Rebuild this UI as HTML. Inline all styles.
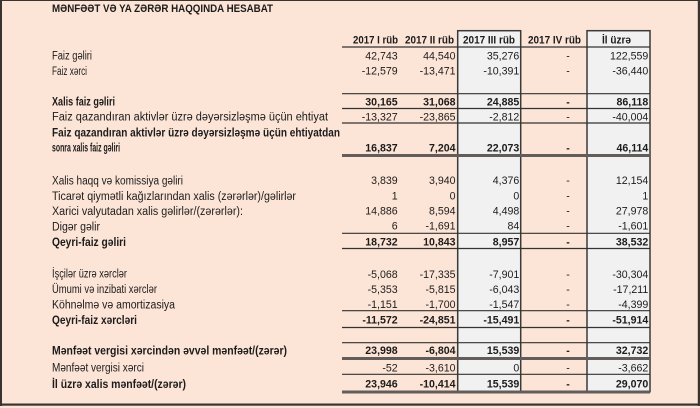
<!DOCTYPE html>
<html>
<head>
<meta charset="utf-8">
<style>
html,body{margin:0;padding:0;background:#fce4d6;}
svg{display:block;}
text{font-family:"Liberation Sans","DejaVu Sans",sans-serif;fill:#1c1c1c;}
.l{font-size:11.5px;}
.b{font-weight:bold;}
.n{font-size:10.6px;text-anchor:end;}
.d{font-size:10.6px;text-anchor:middle;}
.h{font-size:11px;font-weight:bold;}
</style>
</head>
<body>
<svg width="700" height="408" viewBox="0 0 700 408" xmlns="http://www.w3.org/2000/svg">
<rect x="0" y="0" width="700" height="408" fill="#fce4d6"/>
<rect x="458" y="31" width="63" height="361" fill="#f1f1f1"/>
<rect x="587" y="31" width="63" height="361" fill="#f1f1f1"/>
<g stroke="#3a3a3a" stroke-width="1.5" fill="none">
<rect x="457.7" y="30.7" width="63" height="361"/>
<rect x="587" y="30.7" width="63" height="361"/>
</g>
<g stroke="#333" stroke-width="1.2">
<line x1="342" y1="47" x2="650" y2="47"/>
<line x1="342" y1="93.7" x2="650" y2="93.7"/>
<line x1="342" y1="108.5" x2="650" y2="108.5"/>
<line x1="342" y1="123" x2="650" y2="123"/>
<line x1="342" y1="233.3" x2="650" y2="233.3"/>
<line x1="342" y1="248.5" x2="650" y2="248.5"/>
<line x1="342" y1="310.7" x2="650" y2="310.7"/>
<line x1="342" y1="327.5" x2="650" y2="327.5"/>
<line x1="342" y1="342.7" x2="650" y2="342.7"/>
<line x1="342" y1="374.3" x2="650" y2="374.3"/>
</g>
<g fill="#625d5a">
<rect x="342" y="154" width="308" height="3"/>
<rect x="342" y="357" width="308" height="3"/>
<rect x="342" y="390.5" width="308" height="3"/>
</g>
<rect x="0" y="0" width="700" height="1" fill="#3a3330"/>
<rect x="0" y="0" width="2" height="406" fill="#3a3330"/>
<rect x="0" y="403.5" width="700" height="2.2" fill="#3a3330"/>
<rect x="697.8" y="0" width="2.2" height="406" fill="#3a3330"/>

<text x="52" y="12.2" class="h" textLength="221" lengthAdjust="spacingAndGlyphs">MƏNFƏƏT VƏ YA ZƏRƏR HAQQINDA HESABAT</text>

<text x="353" y="43.5" class="h" textLength="45" lengthAdjust="spacingAndGlyphs">2017 I rüb</text>
<text x="405" y="43.5" class="h" textLength="49" lengthAdjust="spacingAndGlyphs">2017 II rüb</text>
<text x="463" y="43.5" class="h" textLength="52" lengthAdjust="spacingAndGlyphs">2017 III rüb</text>
<text x="528" y="43.5" class="h" textLength="53" lengthAdjust="spacingAndGlyphs">2017 IV rüb</text>
<text x="602" y="43.5" class="h" textLength="29" lengthAdjust="spacingAndGlyphs">İl üzrə</text>

<g>
<text x="52" y="59.5" class="l" textLength="40" lengthAdjust="spacingAndGlyphs">Faiz gəliri</text>
<text x="52" y="75" class="l" textLength="35" lengthAdjust="spacingAndGlyphs">Faiz xərci</text>
<text x="52" y="105.5" class="l b" textLength="63" lengthAdjust="spacingAndGlyphs">Xalis faiz gəliri</text>
<text x="52" y="120.5" class="l" textLength="276" lengthAdjust="spacingAndGlyphs">Faiz qazandıran aktivlər üzrə dəyərsizləşmə üçün ehtiyat</text>
<text x="52" y="136.5" class="l b" textLength="288" lengthAdjust="spacingAndGlyphs">Faiz qazandıran aktivlər üzrə dəyərsizləşmə üçün ehtiyatdan</text>
<text x="52" y="151.5" class="l b" textLength="68" lengthAdjust="spacingAndGlyphs">sonra xalis faiz gəliri</text>
<text x="52" y="184.5" class="l" textLength="131" lengthAdjust="spacingAndGlyphs">Xalis haqq və komissiya gəliri</text>
<text x="52" y="200" class="l" textLength="244" lengthAdjust="spacingAndGlyphs">Ticarət qiymətli kağızlarından xalis (zərərlər)/gəlirlər</text>
<text x="52" y="215" class="l" textLength="191" lengthAdjust="spacingAndGlyphs">Xarici valyutadan xalis gəlirlər/(zərərlər):</text>
<text x="52" y="230.5" class="l" textLength="48" lengthAdjust="spacingAndGlyphs">Digər gəlir</text>
<text x="52" y="246" class="l b" textLength="74" lengthAdjust="spacingAndGlyphs">Qeyri-faiz gəliri</text>
<text x="52" y="277.5" class="l" textLength="75" lengthAdjust="spacingAndGlyphs">İşçilər üzrə xərclər</text>
<text x="52" y="293" class="l" textLength="105" lengthAdjust="spacingAndGlyphs">Ümumi və inzibati xərclər</text>
<text x="52" y="308.5" class="l" textLength="123" lengthAdjust="spacingAndGlyphs">Köhnəlmə və amortizasiya</text>
<text x="52" y="324" class="l b" textLength="85" lengthAdjust="spacingAndGlyphs">Qeyri-faiz xərcləri</text>
<text x="52" y="354.5" class="l b" textLength="235" lengthAdjust="spacingAndGlyphs">Mənfəət vergisi xərcindən əvvəl mənfəət/(zərər)</text>
<text x="52" y="371.5" class="l" textLength="92" lengthAdjust="spacingAndGlyphs">Mənfəət vergisi xərci</text>
<text x="52" y="388" class="l b" textLength="134" lengthAdjust="spacingAndGlyphs">İl üzrə xalis mənfəət/(zərər)</text>
</g>

<g>
<text x="397.7" y="59.3" class="n">42,743</text>
<text x="455.5" y="59.3" class="n">44,540</text>
<text x="519.3" y="59.3" class="n">35,276</text>
<text x="568" y="59.3" class="d">-</text>
<text x="648.3" y="59.3" class="n">122,559</text>

<text x="397.7" y="74.7" class="n">-12,579</text>
<text x="455.5" y="74.7" class="n">-13,471</text>
<text x="519.3" y="74.7" class="n">-10,391</text>
<text x="568" y="74.7" class="d">-</text>
<text x="648.3" y="74.7" class="n">-36,440</text>

<text x="397.7" y="105.3" class="n b">30,165</text>
<text x="455.5" y="105.3" class="n b">31,068</text>
<text x="519.3" y="105.3" class="n b">24,885</text>
<text x="568" y="105.3" class="d b">-</text>
<text x="648.3" y="105.3" class="n b">86,118</text>

<text x="397.7" y="120.3" class="n">-13,327</text>
<text x="455.5" y="120.3" class="n">-23,865</text>
<text x="519.3" y="120.3" class="n">-2,812</text>
<text x="568" y="120.3" class="d">-</text>
<text x="648.3" y="120.3" class="n">-40,004</text>

<text x="397.7" y="151.3" class="n b">16,837</text>
<text x="455.5" y="151.3" class="n b">7,204</text>
<text x="519.3" y="151.3" class="n b">22,073</text>
<text x="568" y="151.3" class="d b">-</text>
<text x="648.3" y="151.3" class="n b">46,114</text>

<text x="397.7" y="184" class="n">3,839</text>
<text x="455.5" y="184" class="n">3,940</text>
<text x="519.3" y="184" class="n">4,376</text>
<text x="568" y="184" class="d">-</text>
<text x="648.3" y="184" class="n">12,154</text>

<text x="397.7" y="199.7" class="n">1</text>
<text x="455.5" y="199.7" class="n">0</text>
<text x="519.3" y="199.7" class="n">0</text>
<text x="568" y="199.7" class="d">-</text>
<text x="648.3" y="199.7" class="n">1</text>

<text x="397.7" y="214.7" class="n">14,886</text>
<text x="455.5" y="214.7" class="n">8,594</text>
<text x="519.3" y="214.7" class="n">4,498</text>
<text x="568" y="214.7" class="d">-</text>
<text x="648.3" y="214.7" class="n">27,978</text>

<text x="397.7" y="229.5" class="n">6</text>
<text x="455.5" y="229.5" class="n">-1,691</text>
<text x="519.3" y="229.5" class="n">84</text>
<text x="568" y="229.5" class="d">-</text>
<text x="648.3" y="229.5" class="n">-1,601</text>

<text x="397.7" y="245.5" class="n b">18,732</text>
<text x="455.5" y="245.5" class="n b">10,843</text>
<text x="519.3" y="245.5" class="n b">8,957</text>
<text x="568" y="245.5" class="d b">-</text>
<text x="648.3" y="245.5" class="n b">38,532</text>

<text x="397.7" y="278" class="n">-5,068</text>
<text x="455.5" y="278" class="n">-17,335</text>
<text x="519.3" y="278" class="n">-7,901</text>
<text x="568" y="278" class="d">-</text>
<text x="648.3" y="278" class="n">-30,304</text>

<text x="397.7" y="293" class="n">-5,353</text>
<text x="455.5" y="293" class="n">-5,815</text>
<text x="519.3" y="293" class="n">-6,043</text>
<text x="568" y="293" class="d">-</text>
<text x="648.3" y="293" class="n">-17,211</text>

<text x="397.7" y="308" class="n">-1,151</text>
<text x="455.5" y="308" class="n">-1,700</text>
<text x="519.3" y="308" class="n">-1,547</text>
<text x="568" y="308" class="d">-</text>
<text x="648.3" y="308" class="n">-4,399</text>

<text x="397.7" y="323.5" class="n b">-11,572</text>
<text x="455.5" y="323.5" class="n b">-24,851</text>
<text x="519.3" y="323.5" class="n b">-15,491</text>
<text x="568" y="323.5" class="d b">-</text>
<text x="648.3" y="323.5" class="n b">-51,914</text>

<text x="397.7" y="354" class="n b">23,998</text>
<text x="455.5" y="354" class="n b">-6,804</text>
<text x="519.3" y="354" class="n b">15,539</text>
<text x="568" y="354" class="d b">-</text>
<text x="648.3" y="354" class="n b">32,732</text>

<text x="397.7" y="371.5" class="n">-52</text>
<text x="455.5" y="371.5" class="n">-3,610</text>
<text x="519.3" y="371.5" class="n">0</text>
<text x="568" y="371.5" class="d">-</text>
<text x="648.3" y="371.5" class="n">-3,662</text>

<text x="397.7" y="387.5" class="n b">23,946</text>
<text x="455.5" y="387.5" class="n b">-10,414</text>
<text x="519.3" y="387.5" class="n b">15,539</text>
<text x="568" y="387.5" class="d b">-</text>
<text x="648.3" y="387.5" class="n b">29,070</text>
</g>
</svg>
</body>
</html>
